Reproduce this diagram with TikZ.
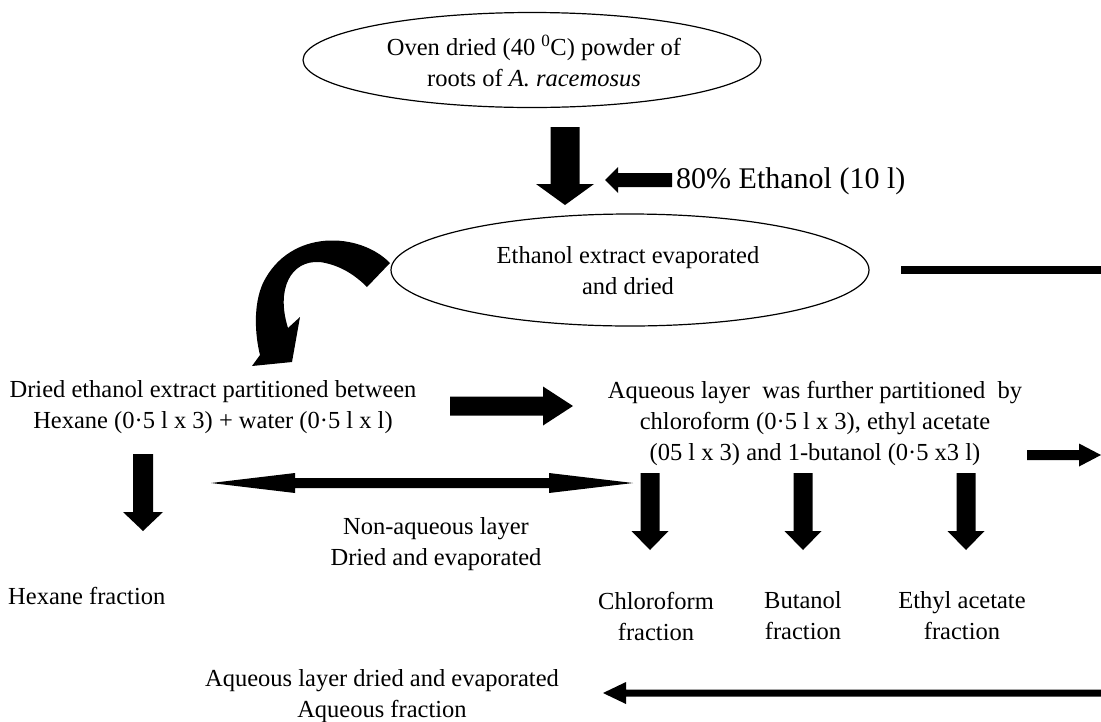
\documentclass[tikz,border=0pt]{standalone}
\usepackage{fontspec}
\setmainfont{Liberation Serif}
\usetikzlibrary{calc,shapes.geometric}
\newcommand{\blockarr}[5]{%
  \fill let \p1=(#1), \p2=(#2), \n1={atan2(\y2-\y1,\x2-\x1)}, \n2={veclen(\x2-\x1,\y2-\y1)} in
    ($(\p1)+(\n1+90:#3)$) -- ($(\p1)+(\n1:\n2-#5)+(\n1+90:#3)$) -- ($(\p1)+(\n1:\n2-#5)+(\n1+90:#4)$) -- (\p2)
    -- ($(\p1)+(\n1:\n2-#5)+(\n1-90:#4)$) -- ($(\p1)+(\n1:\n2-#5)+(\n1-90:#3)$) -- ($(\p1)+(\n1-90:#3)$) -- cycle;}
\newcommand{\dblarr}[5]{%
  \fill let \p1=(#1), \p2=(#2), \n1={atan2(\y2-\y1,\x2-\x1)}, \n2={veclen(\x2-\x1,\y2-\y1)} in
    (\p1) -- ($(\p1)+(\n1:#5)+(\n1+90:#4)$) -- ($(\p1)+(\n1:#5)+(\n1+90:#3)$) -- ($(\p1)+(\n1:\n2-#5)+(\n1+90:#3)$)
    -- ($(\p1)+(\n1:\n2-#5)+(\n1+90:#4)$) -- (\p2) -- ($(\p1)+(\n1:\n2-#5)+(\n1-90:#4)$) -- ($(\p1)+(\n1:\n2-#5)+(\n1-90:#3)$)
    -- ($(\p1)+(\n1:#5)+(\n1-90:#3)$) -- ($(\p1)+(\n1:#5)+(\n1-90:#4)$) -- cycle;}
\begin{document}
\begin{tikzpicture}[x=1pt,y=-1pt,
  ell/.style={ellipse, draw, line width=1.2pt, inner sep=0pt},
  txt/.style={font=\fontsize{24.5}{31}\selectfont, align=center, inner sep=0pt},
  big/.style={font=\fontsize{30}{34}\selectfont, inner sep=0pt}]
\useasboundingbox (0,0) rectangle (1101,721);
% ellipses
\node[ell, minimum width=458pt, minimum height=95pt] (e1) at (532,60) {};
\node[txt] (e1t) at (534,61) {Oven dried (40 \textsuperscript{0}C) powder of\\roots of \textit{A. racemosus}};
\node[ell, minimum width=478pt, minimum height=112pt] (e2) at (630,270) {};
\node[txt] (e2t) at (628,271) {Ethanol extract evaporated\\and dried};
\node[big, anchor=west] (eth) at (676,181) {80\% Ethanol (10 l)};
% texts
\node[txt] (part) at (213,407) {Dried ethanol extract partitioned between\\Hexane (0·5 l x 3) + water (0·5 l x l)};
\node[txt] (aq) at (815,423) {Aqueous layer\ \ was further partitioned\ \ by\\chloroform (0·5 l x 3), ethyl acetate\\(05 l x 3) and 1-butanol (0·5 x3 l)};
\node[txt, anchor=west] (hex) at (8,596) {Hexane fraction};
\node[txt] (nonaq) at (436,544) {Non-aqueous layer\\Dried and evaporated};
\node[txt] (chl) at (656,616) {Chloroform\\fraction};
\node[txt] (but) at (803,616) {Butanol\\fraction};
\node[txt] (eac) at (962,616) {Ethyl acetate\\fraction};
\node[txt] (aqf) at (382,696) {Aqueous layer dried and evaporated\\Aqueous fraction};
% coordinates for arrows
\coordinate (a1s) at (565,127); \coordinate (a1e) at (565,205);
\coordinate (a2s) at (672,180); \coordinate (a2e) at (605,180);
\coordinate (l3s) at (901,270); \coordinate (l3e) at (1101,270);
\coordinate (a5s) at (450,406); \coordinate (a5e) at (573,406);
\coordinate (a6s) at (1027,455); \coordinate (a6e) at (1101,455);
\coordinate (a7s) at (143,454); \coordinate (a7e) at (143,531);
\coordinate (d8s) at (211,483); \coordinate (d8e) at (633,483);
\coordinate (c1s) at (650,473); \coordinate (c1e) at (650,550);
\coordinate (b1s) at (803,473); \coordinate (b1e) at (803,550);
\coordinate (x1s) at (966,473); \coordinate (x1e) at (966,550);
\coordinate (a10s) at (1101,693); \coordinate (a10e) at (603,693);
% arrows
\blockarr{a1s}{a1e}{14.5pt}{29pt}{21pt}
\blockarr{a2s}{a2e}{7pt}{13pt}{13pt}
\draw[line width=8pt] (l3s) -- (l3e);
\blockarr{a5s}{a5e}{9.5pt}{19.5pt}{30pt}
\blockarr{a6s}{a6e}{5pt}{11.5pt}{22pt}
\blockarr{a7s}{a7e}{10pt}{20pt}{19pt}
\dblarr{d8s}{d8e}{5pt}{10pt}{84pt}
\blockarr{c1s}{c1e}{9.5pt}{18.5pt}{19pt}
\blockarr{b1s}{b1e}{9.5pt}{18.5pt}{19pt}
\blockarr{x1s}{x1e}{9.5pt}{18.5pt}{19pt}
\blockarr{a10s}{a10e}{3.5pt}{11pt}{23pt}
% curved arrow from e2 to partition text
\fill (390,263) .. controls (360,232) and (290,228) .. (263,283)
  .. controls (253,305) and (255,335) .. (260,355) -- (252,366) -- (292,362) -- (300,317) -- (288,328)
  .. controls (276,290) and (290,260) .. (320,262) .. controls (340,265) and (355,275) .. (367,287) -- cycle;
\end{tikzpicture}
\end{document}
